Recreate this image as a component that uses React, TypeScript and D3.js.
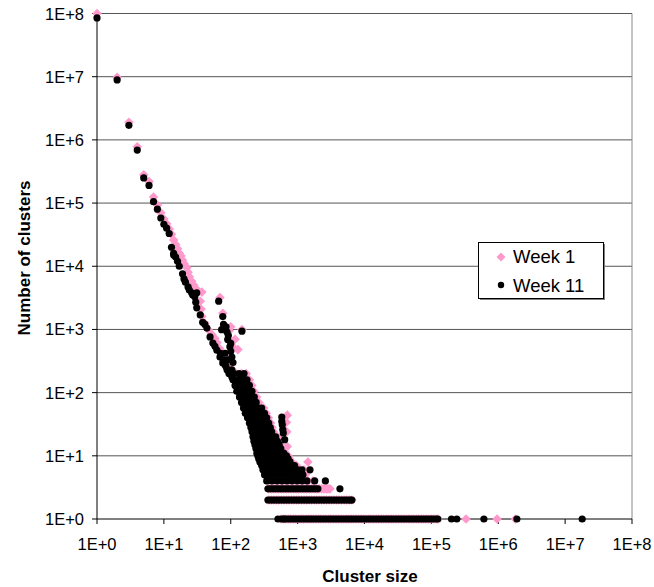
import React from 'react';
import * as d3 from 'd3';

// decades on both axes
const decades = [1, 1e1, 1e2, 1e3, 1e4, 1e5, 1e6, 1e7, 1e8];
const tickLabels = ['1E+0', '1E+1', '1E+2', '1E+3', '1E+4', '1E+5', '1E+6', '1E+7', '1E+8'];
const seriesNames = ['Week 1', 'Week 11'];

// Week 1: [cluster size, number of clusters] along the steep part
const week1Chain: [number, number][] = [
  [1, 1e8], [2, 9.8e6], [3, 1.9e6], [4, 7.8e5], [5, 2.8e5], [6, 2.2e5], [7, 1.25e5],
  [8, 9.3e4], [9, 7.0e4], [10, 5.6e4], [11, 4.7e4], [12, 3.9e4], [13, 3.2e4], [14, 2.6e4],
  [15, 2.2e4], [16, 1.9e4], [17, 1.6e4], [18, 1.45e4], [19, 1.25e4], [20, 1.1e4], [22, 9.5e3],
  [23, 8.0e3], [24, 6.8e3], [26, 5.8e3], [28, 5.0e3], [30, 4.4e3], [33, 4.0e3], [37, 3.9e3],
  [35, 2.8e3], [36, 2.1e3], [37, 1.6e3], [41, 1.25e3], [46, 990], [52, 830], [58, 720],
  [62, 620], [68, 500], [76, 410], [84, 350], [92, 290], [100, 240], [110, 200], [120, 170],
  [69, 3.2e3], [76, 1.8e3], [147, 1.0e3], [116, 700], [128, 480], [95, 950], [110, 520], [100, 1.1e3],
];
// Week 1: rows of equal count -> sizes
const week1Rows: [number, number[]][] = [
  [200, [100, 120, 145, 170]],
  [160, [115, 137, 163, 190]],
  [130, [123, 147, 175, 207]],
  [105, [132, 157, 187, 222]],
  [85, [145, 172, 205, 243]],
  [70, [155, 185, 220, 262]],
  [57, [165, 197, 235, 280, 310]],
  [47, [178, 212, 252, 300, 340]],
  [40, [190, 226, 270, 320, 365]],
  [33, [203, 242, 288, 343, 395]],
  [28, [212, 252, 300, 357, 415]],
  [24, [220, 262, 312, 371, 435]],
  [20, [228, 271, 322, 384, 455, 500]],
  [17, [236, 281, 335, 398, 473, 530]],
  [15, [244, 290, 346, 412, 490, 560]],
  [13, [252, 300, 357, 425, 506, 590]],
  [11, [262, 312, 371, 442, 526, 625, 660]],
  [10, [270, 322, 384, 457, 544, 647, 720]],
  [9, [280, 333, 396, 472, 562, 668, 760]],
  [8, [290, 345, 410, 488, 580, 690, 820, 1425]],
  [7, [310, 369, 440, 523, 622, 740, 880, 960]],
  [6, [320, 381, 453, 540, 642, 764, 910, 1080, 1250]],
  [5, [340, 404, 481, 572, 680, 810, 963, 1145, 1300]],
  [4, [360, 428, 508, 603, 716, 851, 1010, 1200, 1425, 1690]],
  [3, [370, 403, 440, 480, 523, 570, 622, 678, 740, 806, 880, 959, 1045, 1140, 1245, 1357, 1480,
    1613, 1760, 1918, 2090, 2280, 2480, 2700, 2840, 3040]],
  [2, [370, 403, 440, 480, 523, 570, 622, 678, 740, 806, 880, 959, 1045, 1140, 1245, 1357, 1480,
    1613, 1760, 1918, 2090, 2280, 2480, 2700, 2950, 3215, 3500, 3815, 4160, 4535, 4950, 5390, 5880, 6480]],
  [1, [560, 610, 665, 725, 790, 861, 940, 1025, 1120, 1220, 1330, 1450, 1580, 1720, 1880, 2050,
    2230, 2430, 2650, 2890, 3150, 3430, 3750, 4080, 4450, 4850, 5290, 5770, 6290, 6850, 7470, 8140,
    8880, 9680, 10550, 11500, 12540, 13670, 14900, 16240, 17700, 19300, 21000, 22900, 25000, 27200,
    29700, 32400, 35300, 38500, 41900, 45700, 49800, 54300, 59200, 64500, 70300, 76600, 83500,
    91000, 99200, 108000, 118000, 125000, 3.3e5, 9.6e5, 1.8e6]],
];
const week1Outliers: [number, number][] = [[700, 44], [680, 34], [690, 24], [700, 14]];

// Week 11
const week11Chain: [number, number][] = [
  [1, 8.5e7], [2, 8.9e6], [3, 1.7e6], [4, 6.9e5], [5, 2.5e5], [6, 1.9e5], [7, 1.05e5],
  [8, 8.0e4], [9, 5.8e4], [10, 4.6e4], [11, 4.0e4], [12, 3.3e4], [13, 2.0e4], [14, 1.6e4],
  [14, 1.5e4], [15, 1.4e4], [16, 1.2e4], [17, 1.0e4], [19, 7.6e3], [20, 6.3e3], [21, 5.6e3],
  [23, 4.7e3], [24, 4.2e3], [26, 3.8e3], [27, 3.5e3], [29, 3.3e3], [31, 3.8e3], [30, 2.7e3],
  [31, 2.2e3], [35, 1.7e3], [38, 1.3e3], [41, 1.2e3], [44, 1.05e3], [49, 760], [54, 610],
  [58, 540], [62, 470], [69, 365], [76, 295], [88, 230], [104, 177],
  [70, 420], [78, 330], [85, 260], [95, 210],
  [66, 2.8e3], [76, 1.6e3], [78, 1.2e3], [85, 1.1e3], [73, 990], [88, 910], [92, 800],
  [90, 690], [100, 600], [97, 530], [100, 450], [82, 420], [104, 365], [90, 330], [108, 300],
  [82, 275], [104, 230], [150, 180], [147, 940],
];
const week11Rows: [number, number[]][] = [
  [200, [94, 112, 133, 158]],
  [160, [108, 128, 152, 175]],
  [130, [116, 137, 163, 190]],
  [105, [123, 147, 175, 208]],
  [85, [135, 160, 190, 225]],
  [70, [145, 172, 205, 240]],
  [57, [155, 185, 220, 260, 290]],
  [47, [165, 197, 235, 280, 320]],
  [40, [178, 212, 252, 300, 345]],
  [33, [190, 226, 270, 320, 370]],
  [28, [200, 238, 283, 336, 390]],
  [24, [208, 247, 294, 350, 410]],
  [20, [215, 255, 303, 360, 428, 470]],
  [17, [222, 264, 314, 373, 444, 500]],
  [15, [230, 273, 324, 385, 458, 530]],
  [13, [238, 283, 336, 400, 475, 560]],
  [11, [246, 292, 347, 413, 490, 583, 620]],
  [10, [254, 303, 360, 427, 508, 603, 680]],
  [9, [262, 312, 371, 440, 524, 622, 720]],
  [8, [273, 324, 385, 458, 544, 647, 770]],
  [7, [290, 345, 410, 488, 580, 690, 820, 900]],
  [6, [303, 360, 427, 508, 603, 716, 851, 1010, 1160, 1530]],
  [5, [320, 380, 452, 537, 638, 758, 900, 1070, 1200]],
  [4, [345, 410, 488, 580, 690, 820, 975, 1160, 1380, 1800, 2600]],
  [3, [360, 392, 428, 466, 508, 554, 603, 657, 716, 780, 851, 927, 1010, 1100, 1200, 1310, 1425,
    1550, 1690, 1840, 2010, 4290]],
  [2, [360, 392, 428, 466, 508, 554, 603, 657, 716, 780, 851, 927, 1010, 1100, 1200, 1310, 1425,
    1550, 1690, 1840, 2010, 2190, 2390, 2600, 2840, 3090, 3370, 3670, 4000, 4360, 4760, 5190, 5650,
    6160, 6480]],
  [1, [508, 580, 620, 657, 716, 780, 851, 927, 1010, 1100, 1200, 1310, 1425, 1550, 1690, 1840, 2010,
    2190, 2390, 2600, 2840, 3090, 3370, 3670, 4000, 4360, 4760, 5190, 5650, 6160, 6710, 7310, 7970,
    8690, 9470, 10300, 11250, 12260, 13360, 14560, 15870, 17300, 18850, 20550, 22400, 24400, 26600,
    29000, 31600, 34400, 37500, 40900, 44600, 48600, 53000, 57800, 62900, 68600, 74700, 81400,
    88800, 96800, 105000, 115000, 125000, 2.0e5, 2.4e5, 6.1e5, 1.9e6, 1.8e7]],
];
const week11Outliers: [number, number][] = [
  [580, 41], [580, 35], [590, 31], [600, 26], [610, 23], [640, 18],
];

const expand = (chain: [number, number][], rows: [number, number[]][], extra: [number, number][]) => [
  ...chain,
  ...rows.flatMap(([count, sizes]) => sizes.map((s) => [s, count] as [number, number])),
  ...extra,
];

const W = 654;
const H = 587;
const plot = { left: 97, right: 632, top: 13.5, bottom: 519 };
const PINK = '#FF99CC';
const FONT = '"Liberation Sans", Arial, sans-serif';

const diamond = (h: number) => `M0,${-h}L${h},0L0,${h}L${-h},0Z`;

export default function App() {
  const x = d3.scaleLog().domain([1, 1e8]).range([plot.left, plot.right]);
  const y = d3.scaleLog().domain([1, 1e8]).range([plot.bottom, plot.top]);

  const week1 = expand(week1Chain, week1Rows, week1Outliers);
  const week11 = expand(week11Chain, week11Rows, week11Outliers);

  return (
    <svg width={W} height={H} style={{ position: 'absolute', left: 0, top: 0, background: '#fff' }}
      fontFamily={FONT}>
      <rect width={W} height={H} fill="#fff" />
      {/* gridlines */}
      {decades.slice(1).map((d) => (
        <line key={d} x1={plot.left} x2={plot.right} y1={y(d)} y2={y(d)} stroke="#555" strokeWidth={1} />
      ))}
      <line x1={plot.right} x2={plot.right} y1={plot.top} y2={plot.bottom} stroke="#888" />

      {/* y axis */}
      <line x1={plot.left} x2={plot.left} y1={plot.top} y2={plot.bottom} stroke="#000" />
      {decades.map((d, i) => (
        <g key={d}>
          <line x1={plot.left - 5} x2={plot.left} y1={y(d)} y2={y(d)} stroke="#000" />
          <text x={84} y={y(d) + 6} textAnchor="end" fontSize={16.5}>{tickLabels[i]}</text>
        </g>
      ))}
      {/* x axis */}
      <line x1={plot.left} x2={plot.right} y1={plot.bottom} y2={plot.bottom} stroke="#000" />
      {decades.map((d, i) => (
        <g key={d}>
          <line x1={x(d)} x2={x(d)} y1={plot.bottom} y2={plot.bottom + 5} stroke="#000" />
          <text x={x(d)} y={550} textAnchor="middle" fontSize={16.5}>{tickLabels[i]}</text>
        </g>
      ))}

      {/* series */}
      <g fill={PINK}>
        {week1.map(([s, c], i) => (
          <path key={i} d={diamond(4.8)} transform={`translate(${x(s)},${y(c)})`} />
        ))}
      </g>
      <g fill="#000">
        {week11.map(([s, c], i) => (
          <circle key={i} cx={x(s)} cy={y(c)} r={3.6} />
        ))}
      </g>

      {/* axis titles */}
      <text x={370} y={582} textAnchor="middle" fontSize={17} fontWeight="bold">Cluster size</text>
      <text transform="translate(30,258) rotate(-90)" textAnchor="middle" fontSize={17} fontWeight="bold">
        Number of clusters
      </text>

      {/* legend */}
      <rect x={480} y={244} width={125} height={56} fill="#808080" />
      <rect x={478.5} y={242.5} width={125} height={56} fill="#fff" stroke="#000" />
      <path d={diamond(4.5)} transform="translate(501,257)" fill={PINK} />
      <text x={513} y={263} fontSize={18.5}>{seriesNames[0]}</text>
      <circle cx={501} cy={285} r={3.2} fill="#000" />
      <text x={513} y={292} fontSize={18.5}>{seriesNames[1]}</text>
    </svg>
  );
}
